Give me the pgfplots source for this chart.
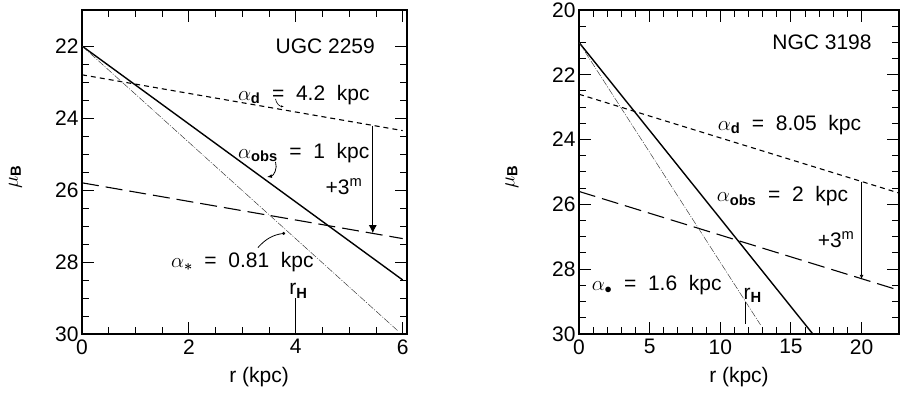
\documentclass[border=0pt]{standalone}
\usepackage{pgfplots}
\pgfplotsset{compat=1.18}
\usepackage{amsmath}
\usepackage{fontspec}
\setmainfont{Liberation Sans}
\usetikzlibrary{arrows.meta}
\newcommand{\fs}{\fontsize{21}{23}\selectfont}
\pgfplotsset{
  myax/.style={
    scale only axis, height=324pt, y dir=reverse,
    tick align=inside, axis line style={line width=1.4pt},
    every tick/.style={line width=1pt, black},
    major tick length=12pt, minor tick length=7pt,
    tick label style={font=\fs},
    /pgf/number format/assume math mode=true,
    xticklabel style={yshift=-2pt},
    label style={font=\fontsize{21}{23}\selectfont},
    clip=false,
  },
  dshort/.style={line width=1.1pt, dash pattern=on 5pt off 4pt},
  dlong/.style={line width=1.1pt, dash pattern=on 17pt off 7pt},
  dstar/.style={line width=0.45pt, black!80, dash pattern=on 7pt off 1.5pt on 1pt off 1.5pt},
  dobs/.style={line width=1.4pt},
}
\begin{document}
\begin{tikzpicture}
\useasboundingbox (-82pt,-61pt) rectangle (823pt,334pt);
\begin{axis}[myax, width=325pt,
  xmin=0, xmax=6.08, ymin=21, ymax=30,
  xtick={0,2,4,6}, ytick={22,24,26,28,30},
  minor x tick num=3, minor y tick num=3,
  xlabel={r (kpc)}, ylabel={$\mu_{\textbf{B}}$},
  every axis x label/.append style={at={(axis description cs:0.545,-0.133)}, anchor=center},
  every axis y label/.append style={at={(axis description cs:-0.205,0.485)}, anchor=center},
]
\addplot[dobs] coordinates {(0,22) (6,28.5)};
\addplot[dshort] coordinates {(0,22.8) (6,24.35)};
\addplot[dlong] coordinates {(0,25.8) (6,27.35)};
\addplot[dstar] coordinates {(0,22) (5.9,29.9)};
\node[font=\fs] at (axis cs:4.55,22) {UGC 2259};
\node[font=\fs] at (axis cs:4.15,23.36) {$\alpha_{\textbf{d}}$ \ = \ 4.2 \ kpc};
\draw[line width=0.6pt,-{Latex[length=3pt]}] (axis cs:3.62,23.47) to[bend right=40] (axis cs:3.78,23.68);
\node[font=\fs] at (axis cs:4.15,24.97) {$\alpha_{\textbf{obs}}$ \ = \ 1 \ kpc};
\draw[line width=0.8pt,-{Latex[length=5pt]}] (axis cs:3.62,25.22) to[bend left=50] (axis cs:3.46,25.64);
\node[font=\fs] at (axis cs:4.9,25.9) {+3$^{\mathrm{m}}$};
\draw[line width=1pt,-{Latex[length=8pt,width=8pt]}] (axis cs:5.44,24.21) -- (axis cs:5.44,27.2);
\node[font=\fs] at (axis cs:3.0,28.0) {$\alpha_{\boldsymbol{\ast}}$ \ = \ 0.81 \ kpc};
\draw[line width=0.8pt,-{Circle[length=3pt]}] (axis cs:3.29,27.6) to[bend left=20] (axis cs:3.8,27.2);
\node[font=\fs] at (axis cs:4.05,28.8) {r$_{\textbf{H}}$};
\draw[line width=1pt] (axis cs:4.0,29.0) -- (axis cs:4.0,29.67);
\end{axis}
\begin{axis}[myax, width=320pt, at={(497pt,0pt)},
  xmin=0, xmax=22.65, ymin=20, ymax=30,
  xtick={0,5,10,15,20}, ytick={20,22,24,26,28,30},
  minor x tick num=4, minor y tick num=3,
  xlabel={r (kpc)}, ylabel={$\mu_{\textbf{B}}$},
  every axis x label/.append style={at={(axis description cs:0.5,-0.133)}, anchor=center},
  every axis y label/.append style={at={(axis description cs:-0.21,0.485)}, anchor=center},
]
\addplot[dobs] coordinates {(0,21) (16.55,30)};
\addplot[dshort] coordinates {(0,22.6) (22.65,25.65)};
\addplot[dlong] coordinates {(0,25.6) (22.65,28.65)};
\addplot[dstar] coordinates {(0,21) (12.85,29.72)};
\node[font=\fs] at (axis cs:17.2,21.0) {NGC 3198};
\node[font=\fs] at (axis cs:14.9,23.54) {$\alpha_{\textbf{d}}$ \ = \ 8.05 \ kpc};
\node[font=\fs] at (axis cs:14.4,25.75) {$\alpha_{\textbf{obs}}$ \ = \ 2 \ kpc};
\node[font=\fs] at (axis cs:18.2,27.08) {+3$^{\mathrm{m}}$};
\draw[line width=1pt,-{Latex[length=4pt,width=4pt]}] (axis cs:20,25.3) -- (axis cs:20,28.3);
\node[font=\fs] at (axis cs:5.5,28.5) {$\alpha_{\bullet}$ \ = \ 1.6 \ kpc};
\node[font=\fs] at (axis cs:12.3,28.8) {r$_{\textbf{H}}$};
\draw[line width=1pt] (axis cs:11.8,29.0) -- (axis cs:11.8,29.7);
\end{axis}
\end{tikzpicture}
\end{document}
